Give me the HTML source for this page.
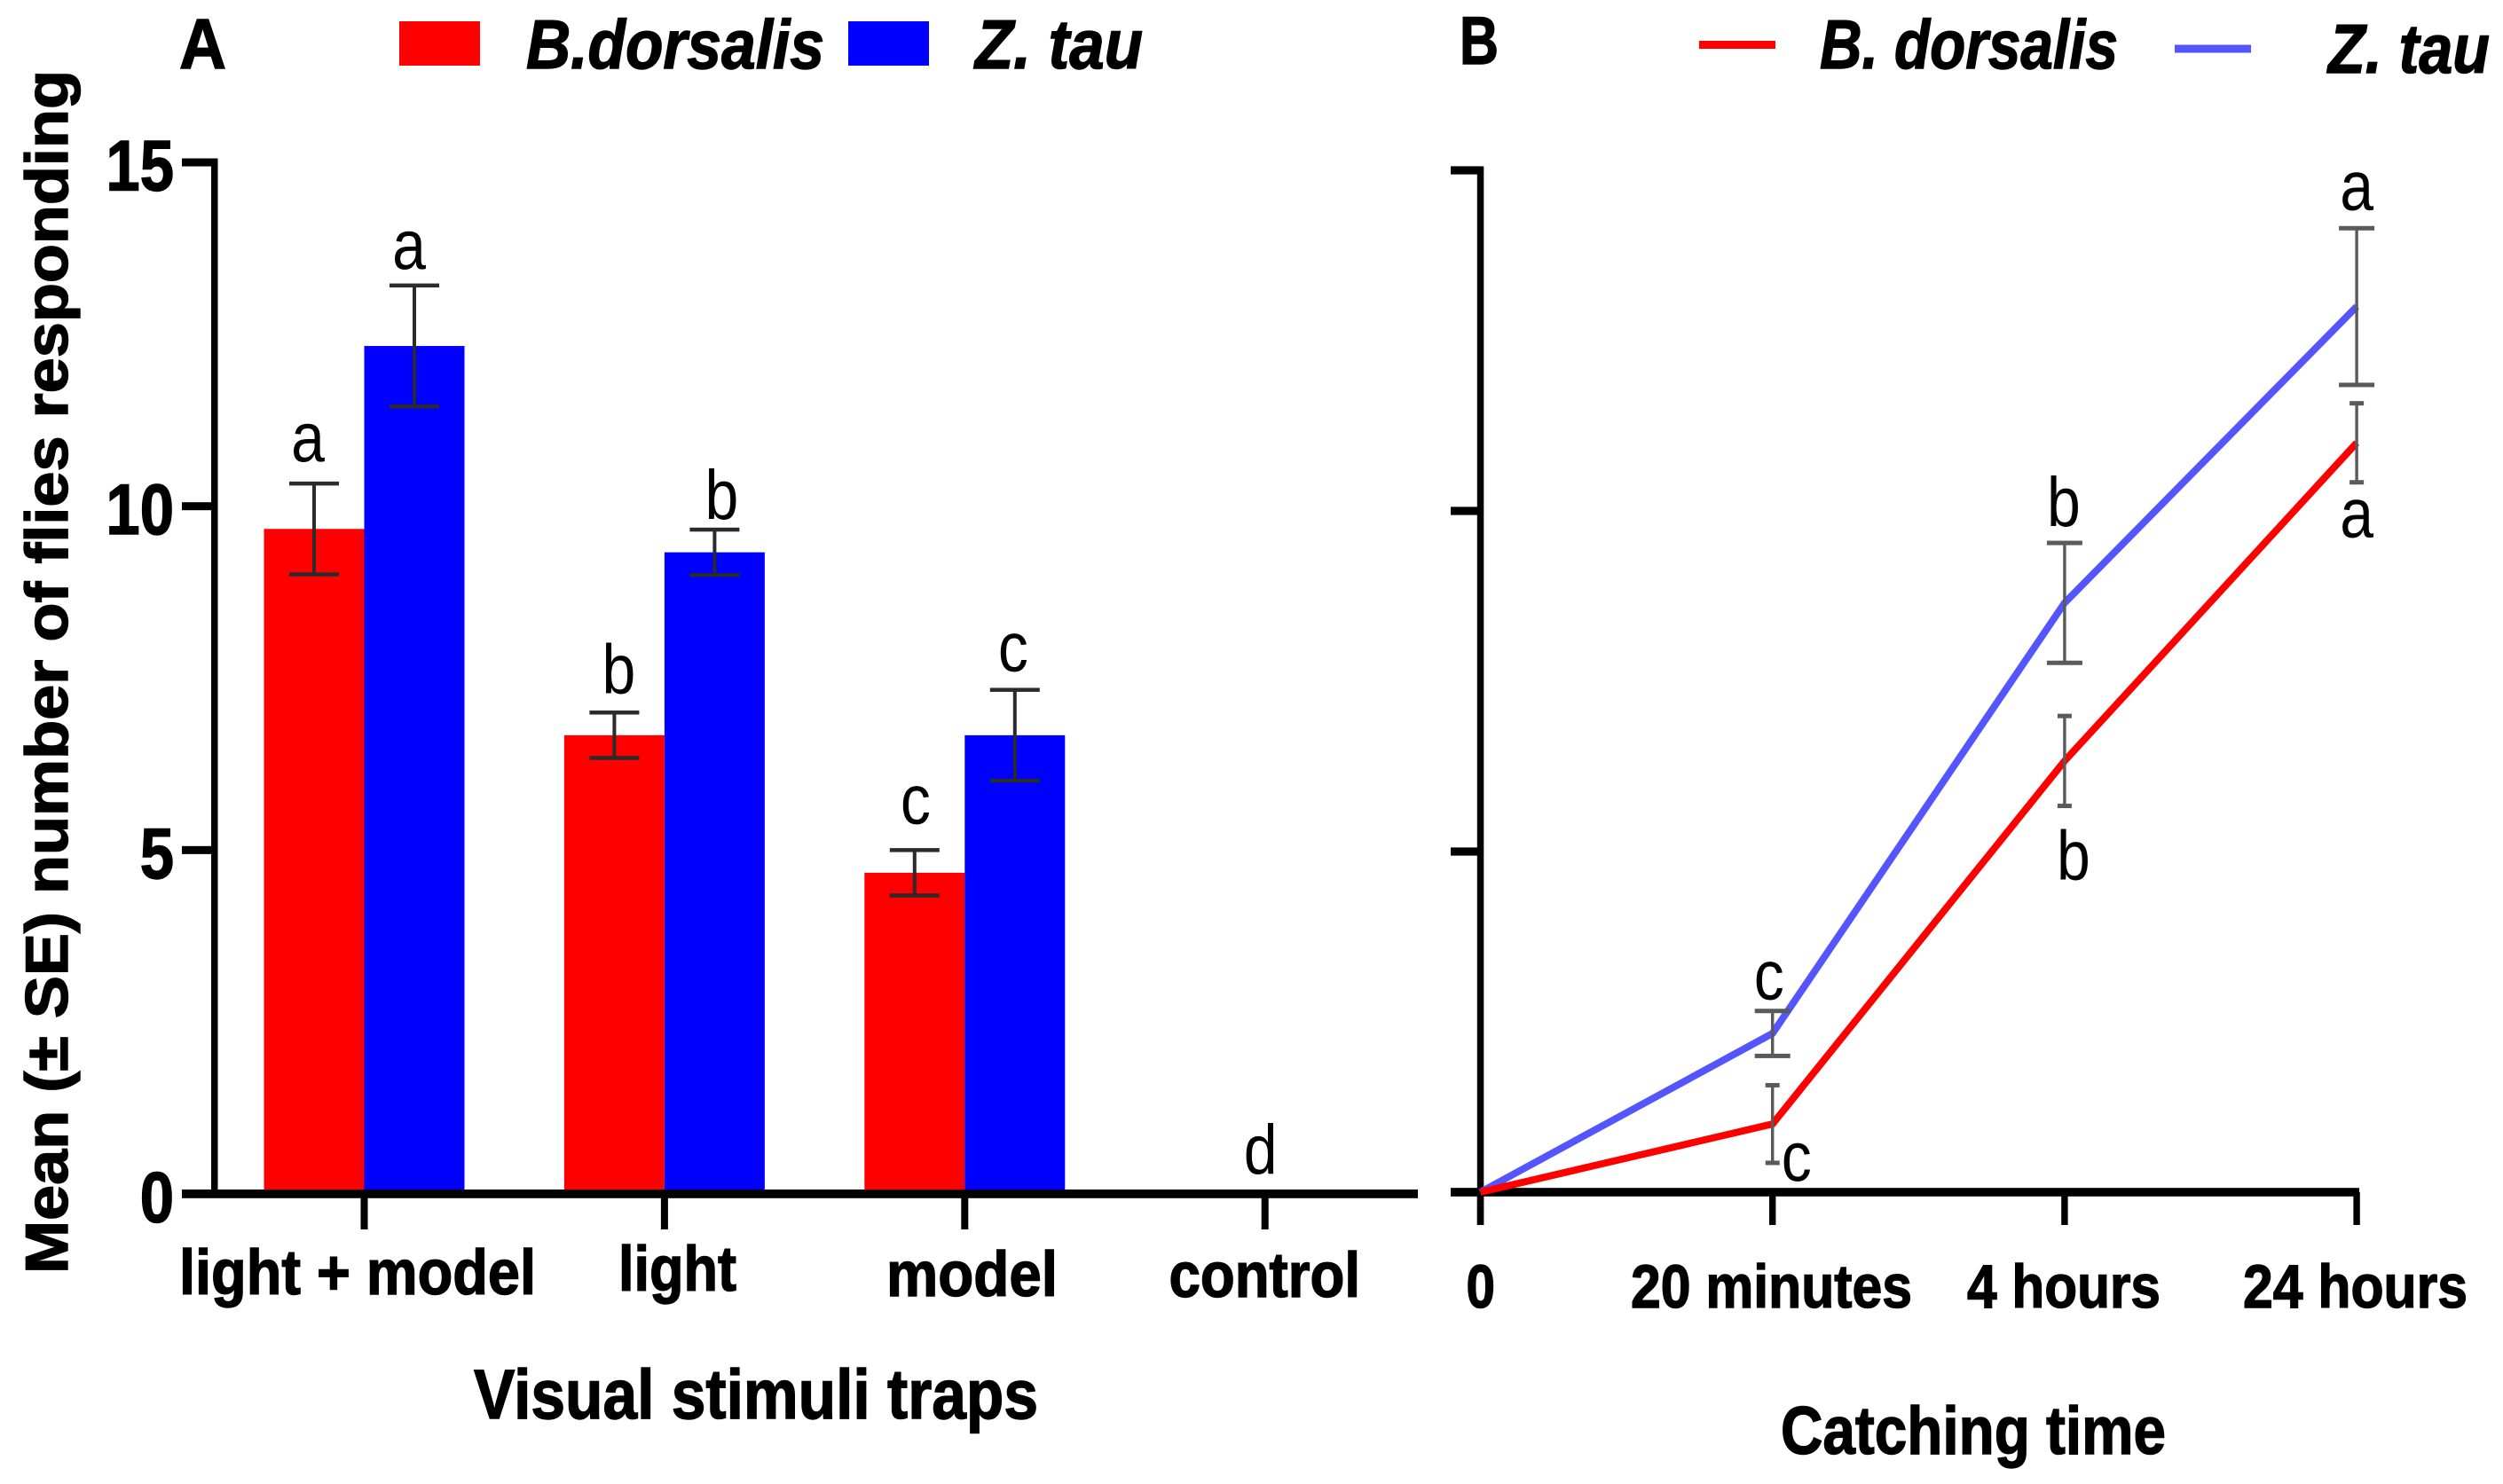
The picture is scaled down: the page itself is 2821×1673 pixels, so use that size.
<!DOCTYPE html>
<html lang="en">
<head>
<meta charset="utf-8">
<title>Mean number of flies responding by visual stimuli trap and catching time</title>
<style>
html,body{margin:0;padding:0;background:#fff;}
svg{display:block;}
text{font-family:"Liberation Sans",Arial,sans-serif;fill:#000;}
.b{font-weight:bold;}
.i{font-style:italic;font-weight:bold;}
.b,.i,text[font-weight="bold"]{stroke:#000;stroke-width:1.4px;}
</style>
</head>
<body>
<svg id="chart" xmlns="http://www.w3.org/2000/svg" width="2821" height="1673" viewBox="0 0 2821 1673">
  <rect x="0" y="0" width="2821" height="1673" fill="#fff"/>

  <text class="b" x="202" y="77" font-size="80" textLength="53" lengthAdjust="spacingAndGlyphs">A</text>
  <rect x="450" y="24" width="91" height="50" fill="#ff0000"/>
  <text class="i" x="593" y="77" font-size="78" textLength="336" lengthAdjust="spacingAndGlyphs">B.dorsalis</text>
  <rect x="956" y="24" width="91" height="50" fill="#0000ff"/>
  <text class="i" x="1099" y="77" font-size="78" textLength="189" lengthAdjust="spacingAndGlyphs">Z. tau</text>

  <text class="b" transform="translate(76,1436) rotate(-90)" x="0" y="0" font-size="68" textLength="1357" lengthAdjust="spacingAndGlyphs">Mean (± SE) number of flies responding</text>
  <text class="b" x="534" y="1599" font-size="79" textLength="636" lengthAdjust="spacingAndGlyphs">Visual stimuli traps</text>

  <text class="b" x="1645" y="72" font-size="76" textLength="44" lengthAdjust="spacingAndGlyphs">B</text>
  <rect x="1915" y="46" width="86" height="9" fill="#ff0000"/>
  <text class="i" x="2051" y="77" font-size="78" textLength="336" lengthAdjust="spacingAndGlyphs">B. dorsalis</text>
  <rect x="2451" y="50.5" width="86" height="9" fill="#5555ff"/>
  <text class="i" x="2624" y="82" font-size="78" textLength="182" lengthAdjust="spacingAndGlyphs">Z. tau</text>
  <text class="b" x="2007" y="1639" font-size="76" textLength="434" lengthAdjust="spacingAndGlyphs">Catching time</text>

  <g id="panelA"></g>
  <g id="panelB"></g>
</svg>

<script>
/* ---------- Panel A data ---------- */
const categoriesA = ['light + model', 'light', 'model', 'control'];
const dorsalisBars = [9.67, 6.67, 4.67, 0];
const tauBars = [12.33, 9.33, 6.67, 0];
const dorsalisBarSE = [0.66, 0.33, 0.33, 0];
const tauBarSE = [0.88, 0.33, 0.66, 0];
const dorsalisBarLetters = ['a', 'b', 'c', ''];
const tauBarLetters = ['a', 'b', 'c', 'd'];
const yTicksA = [0, 5, 10, 15];

/* ---------- Panel B data ---------- */
const categoriesB = ['0', '20 minutes', '4 hours', '24 hours'];
const dorsalisLine = [0, 1.0, 6.33, 11.0];
const tauLine = [0, 2.33, 8.65, 13.0];
const dorsalisLineSE = [0, 0.57, 0.66, 0.58];
const tauLineSE = [0, 0.33, 0.88, 1.15];
const dorsalisLineLetters = ['', 'c', 'b', 'a'];
const tauLineLetters = ['', 'c', 'b', 'a'];
const yTicksB = [0, 5, 10, 15];

const NS = 'http://www.w3.org/2000/svg';
function mk(tag, parent, attrs) {
  const el = document.createElementNS(NS, tag);
  for (const k in attrs) el.setAttribute(k, attrs[k]);
  parent.appendChild(el);
  return el;
}

/* ---------- Axis functions ---------- */
const yA = v => 1346 - v * 77.53;
const groupA = i => 410.5 + i * 338.4;
const yB = v => 1344 - v * 76.8;
const xB = i => 1668.5 + i * 329.2;

/* Manual layout for labels (hand-placed in the source figure) */
const layoutLabelA = [
  { x: 202, y: 1459, w: 402 },
  { x: 697, y: 1455, w: 133 },
  { x: 999, y: 1461, w: 193 },
  { x: 1317.5, y: 1462, w: 215.5 }
];
const layoutLabelB = [
  { x: 1652.5, w: 32.5 },
  { x: 1838, w: 317 },
  { x: 2217, w: 218 },
  { x: 2528, w: 253 }
];
const nudgeLetterA = {
  red: [{ dx: -7, dy: -25 }, { dx: 5, dy: -22 }, { dx: 1, dy: -30 }],
  blue: [{ dx: -6, dy: -19 }, { dx: 8, dy: -12 }, { dx: -2, dy: -21 }, { dx: -5, dy: -23 }]
};
const nudgeLetterB = {
  red: [null, { dx: 27, dy: 20 }, { dx: 10, dy: 83 }, { dx: 0, dy: 62 }],
  blue: [null, { dx: -4, dy: -13 }, { dx: -1, dy: -19 }, { dx: 0, dy: -21 }]
};

function letter(parent, txt, x, y, name) {
  const t = mk('text', parent, {
    transform: 'translate(' + x + ',' + y + ') scale(0.86,1)',
    'text-anchor': 'middle',
    'font-size': 79
  });
  t.textContent = txt;
  
  
}

function errorBar(parent, x, top, bottom, capWidth, color, stem, capH, name) {
  const g = mk('g', parent, {});
  
  
  mk('rect', g, { x: x - stem / 2, y: top, width: stem, height: bottom - top, fill: color });
  mk('rect', g, { x: x - capWidth / 2, y: top - capH / 2, width: capWidth, height: capH, fill: color });
  mk('rect', g, { x: x - capWidth / 2, y: bottom - capH / 2, width: capWidth, height: capH, fill: color });
}

/* ---------- Panel A ---------- */
(function () {
  const root = document.getElementById('panelA');
  const barW = 113;

  categoriesA.forEach(function (cat, i) {
    const c = groupA(i);
    if (dorsalisBars[i] > 0) {
      const r = mk('rect', root, { x: c - barW, y: yA(dorsalisBars[i]), width: barW, height: yA(0) - yA(dorsalisBars[i]), fill: '#ff0000' });
      
      
    }
    if (tauBars[i] > 0) {
      const b = mk('rect', root, { x: c, y: yA(tauBars[i]), width: barW, height: yA(0) - yA(tauBars[i]), fill: '#0000ff' });
      
      
    }
  });

  const yLine = mk('rect', root, { x: 238, y: yA(15) - 4.5, width: 7.5, height: yA(0) - yA(15) + 9, fill: '#000' });
  
  
  const xLine = mk('rect', root, { x: 205, y: yA(0) - 5, width: 1393, height: 9.8, fill: '#000' });
  
  

  yTicksA.forEach(function (v) {
    const tk = mk('rect', root, { x: 205, y: yA(v) - 4.5, width: 36, height: 9, fill: '#000' });
    
    
    const lb = mk('text', root, {
      transform: 'translate(196,' + (yA(v) + 31.5) + ') scale(0.85,1)',
      'text-anchor': 'end',
      'font-size': 81,
      'font-weight': 'bold'
    });
    lb.textContent = String(v);
    
    
  });

  categoriesA.forEach(function (cat, i) {
    const c = groupA(i);
    const tk = mk('rect', root, { x: c - 4, y: yA(0) + 4, width: 8, height: 36, fill: '#000' });
    
    
    const L = layoutLabelA[i];
    const lb = mk('text', root, { x: L.x, y: L.y, 'font-size': 71, 'font-weight': 'bold', textLength: L.w, lengthAdjust: 'spacingAndGlyphs' });
    lb.textContent = cat;
    
    
  });

  categoriesA.forEach(function (cat, i) {
    const c = groupA(i);
    const rx = c - barW / 2, bx = c + barW / 2;
    if (dorsalisBarSE[i] > 0) {
      errorBar(root, rx, yA(dorsalisBars[i] + dorsalisBarSE[i]), yA(dorsalisBars[i] - dorsalisBarSE[i]), 56, '#2b2b2b', 4, 4.5, 'error-bar-b-dorsalis-' + i);
    }
    if (tauBarSE[i] > 0) {
      errorBar(root, bx, yA(tauBars[i] + tauBarSE[i]), yA(tauBars[i] - tauBarSE[i]), 56, '#2b2b2b', 4, 4.5, 'error-bar-z-tau-' + i);
    }
    if (dorsalisBarLetters[i]) {
      const n = nudgeLetterA.red[i];
      letter(root, dorsalisBarLetters[i], rx + n.dx, yA(dorsalisBars[i] + dorsalisBarSE[i]) + n.dy, 'significance-letter-b-dorsalis-' + i);
    }
    if (tauBarLetters[i]) {
      const n = nudgeLetterA.blue[i];
      const anchorX = tauBars[i] > 0 ? bx : c;
      letter(root, tauBarLetters[i], anchorX + n.dx, yA(tauBars[i] + tauBarSE[i]) + n.dy, 'significance-letter-z-tau-' + i);
    }
  });
})();

/* ---------- Panel B ---------- */
(function () {
  const root = document.getElementById('panelB');

  const yLine = mk('rect', root, { x: 1664.8, y: yB(15) - 4.5, width: 7.5, height: 1381 - yB(15) + 4.5, fill: '#000' });
  
  
  const xLine = mk('rect', root, { x: 1635, y: yB(0) - 4.8, width: 1024, height: 9.6, fill: '#000' });
  
  

  yTicksB.forEach(function (v) {
    const tk = mk('rect', root, { x: 1635, y: yB(v) - 4.6, width: 34, height: 9.2, fill: '#000' });
    
    
  });

  categoriesB.forEach(function (cat, i) {
    const tk = mk('rect', root, { x: xB(i) - 3.7, y: yB(0), width: 7.4, height: 37, fill: '#000' });
    
    
    const L = layoutLabelB[i];
    const lb = mk('text', root, { x: L.x, y: 1474, 'font-size': 69, 'font-weight': 'bold', textLength: L.w, lengthAdjust: 'spacingAndGlyphs' });
    lb.textContent = cat;
    
    
  });

  const blue = mk('polyline', root, {
    points: tauLine.map(function (v, i) { return xB(i) + ',' + yB(v); }).join(' '),
    fill: 'none', stroke: '#5555ff', 'stroke-width': 8
  });
  
  

  const red = mk('polyline', root, {
    points: dorsalisLine.map(function (v, i) { return xB(i) + ',' + yB(v); }).join(' '),
    fill: 'none', stroke: '#ff0000', 'stroke-width': 8
  });
  
  

  categoriesB.forEach(function (cat, i) {
    if (tauLineSE[i] > 0) {
      errorBar(root, xB(i), yB(tauLine[i] + tauLineSE[i]), yB(tauLine[i] - tauLineSE[i]), 40, '#5a5a5a', 3.4, 5, 'error-bar-line-z-tau-' + i);
    }
    if (dorsalisLineSE[i] > 0) {
      errorBar(root, xB(i), yB(dorsalisLine[i] + dorsalisLineSE[i]), yB(dorsalisLine[i] - dorsalisLineSE[i]), 16, '#5a5a5a', 3.4, 5, 'error-bar-line-b-dorsalis-' + i);
    }
    if (tauLineLetters[i]) {
      const n = nudgeLetterB.blue[i];
      letter(root, tauLineLetters[i], xB(i) + n.dx, yB(tauLine[i] + tauLineSE[i]) + n.dy, 'significance-letter-line-z-tau-' + i);
    }
    if (dorsalisLineLetters[i]) {
      const n = nudgeLetterB.red[i];
      letter(root, dorsalisLineLetters[i], xB(i) + n.dx, yB(dorsalisLine[i] - dorsalisLineSE[i]) + n.dy, 'significance-letter-line-b-dorsalis-' + i);
    }
  });
})();
</script>
</body>
</html>
